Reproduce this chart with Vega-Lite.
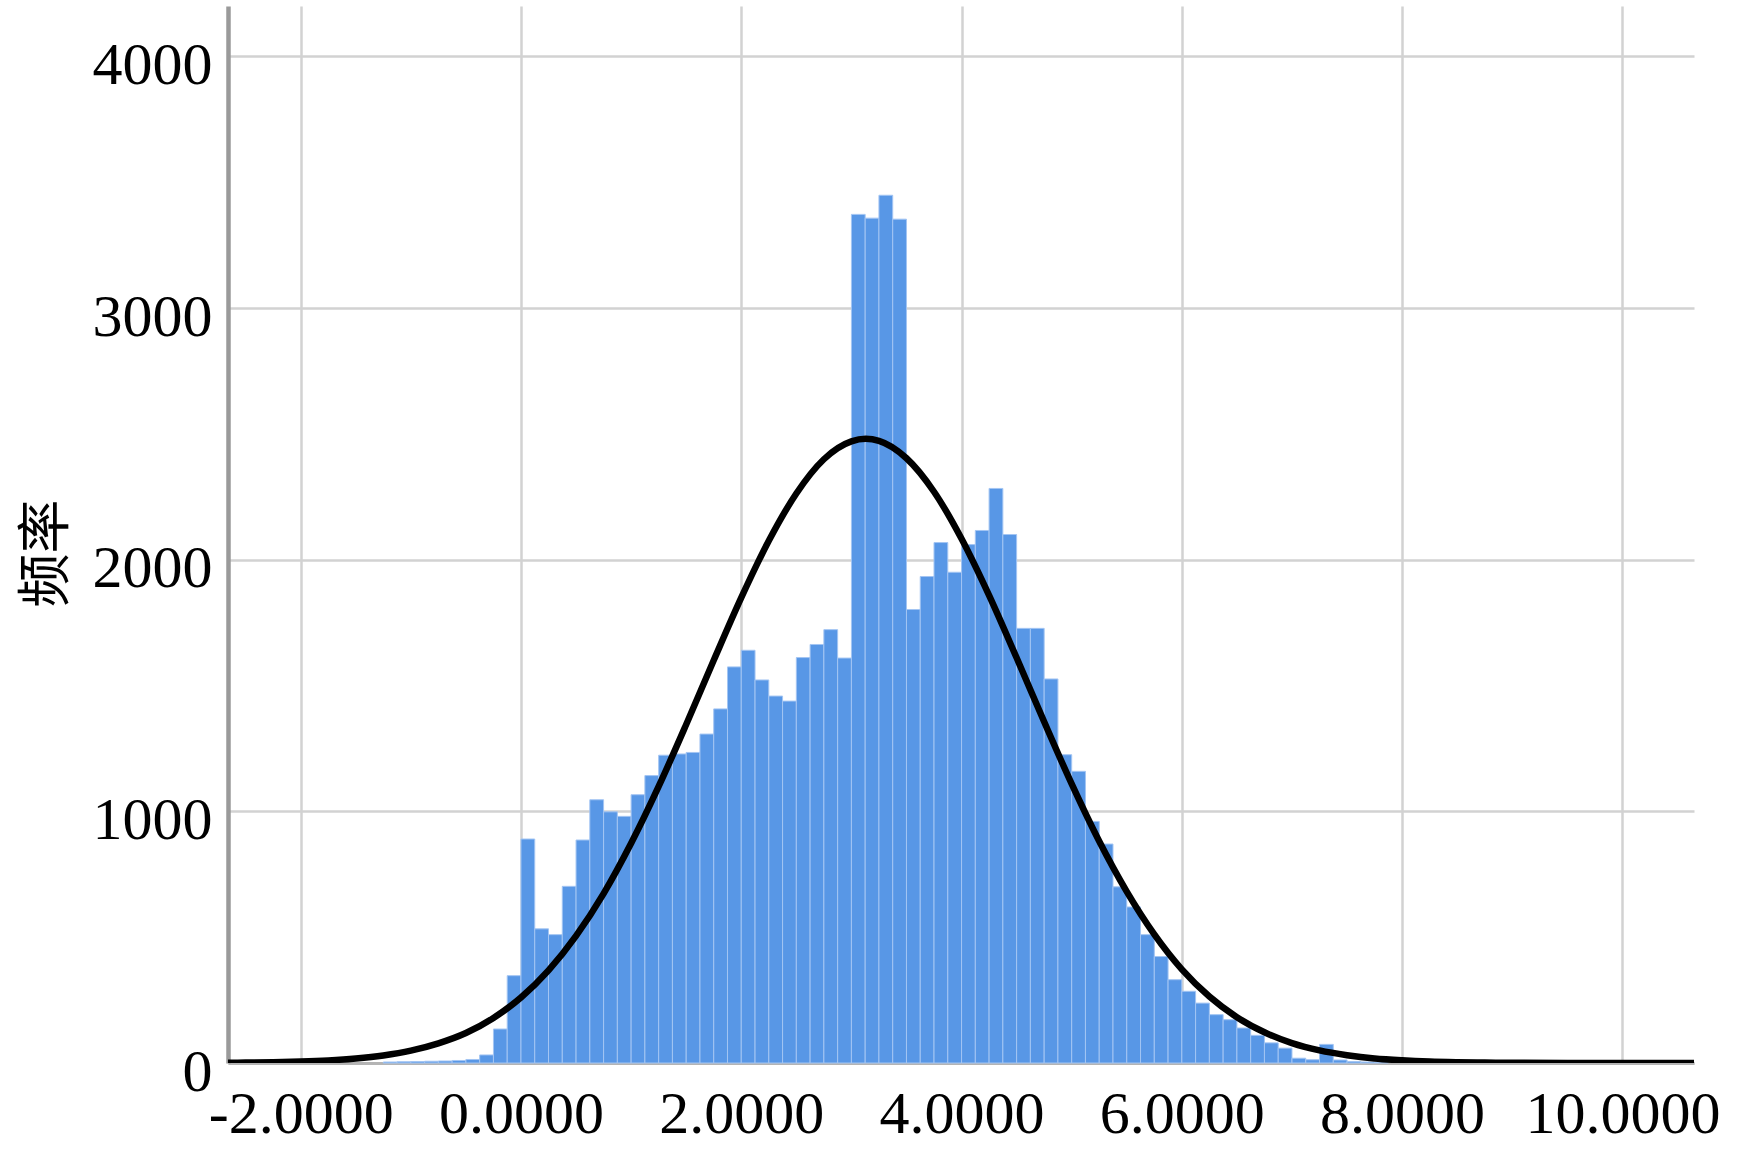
{
  "$schema": "https://vega.github.io/schema/vega-lite/v6.json",
  "width": 1466,
  "height": 1057,
  "autosize": "none",
  "padding": {"left": 228, "top": 6, "right": 58, "bottom": 92},
  "background": "white",
  "config": {
    "view": {"stroke": null},
    "axis": {
      "labelFont": "Liberation Serif",
      "labelFontSize": 60,
      "labelColor": "#000000",
      "labelLimit": 0,
      "ticks": false,
      "gridColor": "#d2d2d2",
      "gridWidth": 2.5,
      "gridOpacity": 1
    }
  },
  "datasets": {
    "bins": [
      {"start": -1.25, "end": -1.125, "count": 4},
      {"start": -1.125, "end": -1.0, "count": 5},
      {"start": -1.0, "end": -0.875, "count": 6},
      {"start": -0.875, "end": -0.75, "count": 7},
      {"start": -0.75, "end": -0.625, "count": 8},
      {"start": -0.625, "end": -0.5, "count": 10},
      {"start": -0.5, "end": -0.375, "count": 14},
      {"start": -0.375, "end": -0.25, "count": 32},
      {"start": -0.25, "end": -0.125, "count": 135},
      {"start": -0.125, "end": 0.0, "count": 347},
      {"start": 0.0, "end": 0.125, "count": 890},
      {"start": 0.125, "end": 0.25, "count": 533},
      {"start": 0.25, "end": 0.375, "count": 510},
      {"start": 0.375, "end": 0.5, "count": 702},
      {"start": 0.5, "end": 0.625, "count": 886},
      {"start": 0.625, "end": 0.75, "count": 1046},
      {"start": 0.75, "end": 0.875, "count": 998},
      {"start": 0.875, "end": 1.0, "count": 980},
      {"start": 1.0, "end": 1.125, "count": 1066},
      {"start": 1.125, "end": 1.25, "count": 1142},
      {"start": 1.25, "end": 1.375, "count": 1223},
      {"start": 1.375, "end": 1.5, "count": 1228},
      {"start": 1.5, "end": 1.625, "count": 1234},
      {"start": 1.625, "end": 1.75, "count": 1307},
      {"start": 1.75, "end": 1.875, "count": 1407},
      {"start": 1.875, "end": 2.0, "count": 1574},
      {"start": 2.0, "end": 2.125, "count": 1640},
      {"start": 2.125, "end": 2.25, "count": 1522},
      {"start": 2.25, "end": 2.375, "count": 1458},
      {"start": 2.375, "end": 2.5, "count": 1438},
      {"start": 2.5, "end": 2.625, "count": 1611},
      {"start": 2.625, "end": 2.75, "count": 1663},
      {"start": 2.75, "end": 2.875, "count": 1722},
      {"start": 2.875, "end": 3.0, "count": 1609},
      {"start": 3.0, "end": 3.125, "count": 3372},
      {"start": 3.125, "end": 3.25, "count": 3357},
      {"start": 3.25, "end": 3.375, "count": 3448},
      {"start": 3.375, "end": 3.5, "count": 3353},
      {"start": 3.5, "end": 3.625, "count": 1802},
      {"start": 3.625, "end": 3.75, "count": 1933},
      {"start": 3.75, "end": 3.875, "count": 2068},
      {"start": 3.875, "end": 4.0, "count": 1950},
      {"start": 4.0, "end": 4.125, "count": 2060},
      {"start": 4.125, "end": 4.25, "count": 2116},
      {"start": 4.25, "end": 4.375, "count": 2283},
      {"start": 4.375, "end": 4.5, "count": 2100},
      {"start": 4.5, "end": 4.625, "count": 1727},
      {"start": 4.625, "end": 4.75, "count": 1727},
      {"start": 4.75, "end": 4.875, "count": 1526},
      {"start": 4.875, "end": 5.0, "count": 1225},
      {"start": 5.0, "end": 5.125, "count": 1159},
      {"start": 5.125, "end": 5.25, "count": 960},
      {"start": 5.25, "end": 5.375, "count": 870},
      {"start": 5.375, "end": 5.5, "count": 700},
      {"start": 5.5, "end": 5.625, "count": 620},
      {"start": 5.625, "end": 5.75, "count": 510},
      {"start": 5.75, "end": 5.875, "count": 423},
      {"start": 5.875, "end": 6.0, "count": 331},
      {"start": 6.0, "end": 6.125, "count": 285},
      {"start": 6.125, "end": 6.25, "count": 238},
      {"start": 6.25, "end": 6.375, "count": 192},
      {"start": 6.375, "end": 6.5, "count": 172},
      {"start": 6.5, "end": 6.625, "count": 139},
      {"start": 6.625, "end": 6.75, "count": 110},
      {"start": 6.75, "end": 6.875, "count": 80},
      {"start": 6.875, "end": 7.0, "count": 59},
      {"start": 7.0, "end": 7.125, "count": 19},
      {"start": 7.125, "end": 7.25, "count": 13},
      {"start": 7.25, "end": 7.375, "count": 74},
      {"start": 7.375, "end": 7.5, "count": 12},
      {"start": 7.5, "end": 7.625, "count": 6},
      {"start": 7.625, "end": 7.75, "count": 4},
      {"start": 7.75, "end": 7.875, "count": 3}
    ],
    "curve": [
      {"x": -2.66, "y": 1.1},
      {"x": -2.5, "y": 1.7},
      {"x": -2.25, "y": 3.2},
      {"x": -2.0, "y": 5.8},
      {"x": -1.75, "y": 10.3},
      {"x": -1.5, "y": 17.9},
      {"x": -1.25, "y": 30},
      {"x": -1.0, "y": 49},
      {"x": -0.75, "y": 78},
      {"x": -0.5, "y": 119},
      {"x": -0.25, "y": 179},
      {"x": 0.0, "y": 260},
      {"x": 0.25, "y": 368},
      {"x": 0.5, "y": 505},
      {"x": 0.75, "y": 673},
      {"x": 1.0, "y": 873},
      {"x": 1.25, "y": 1099},
      {"x": 1.5, "y": 1345},
      {"x": 1.75, "y": 1600},
      {"x": 2.0, "y": 1849},
      {"x": 2.25, "y": 2075},
      {"x": 2.5, "y": 2263},
      {"x": 2.75, "y": 2399},
      {"x": 3.0, "y": 2470},
      {"x": 3.13, "y": 2480},
      {"x": 3.25, "y": 2472},
      {"x": 3.5, "y": 2403},
      {"x": 3.75, "y": 2270},
      {"x": 4.0, "y": 2083},
      {"x": 4.25, "y": 1858},
      {"x": 4.5, "y": 1610},
      {"x": 4.75, "y": 1356},
      {"x": 5.0, "y": 1109},
      {"x": 5.25, "y": 881},
      {"x": 5.5, "y": 681},
      {"x": 5.75, "y": 511},
      {"x": 6.0, "y": 372},
      {"x": 6.25, "y": 264},
      {"x": 6.5, "y": 182},
      {"x": 6.75, "y": 122},
      {"x": 7.0, "y": 79},
      {"x": 7.25, "y": 50},
      {"x": 7.5, "y": 31},
      {"x": 7.75, "y": 18},
      {"x": 8.0, "y": 10.6},
      {"x": 8.25, "y": 5.9},
      {"x": 8.5, "y": 3.3},
      {"x": 8.75, "y": 1.7},
      {"x": 9.0, "y": 0.9},
      {"x": 9.5, "y": 0.2},
      {"x": 10.0, "y": 0.04},
      {"x": 10.65, "y": 0.0}
    ]
  },
  "layer": [
    {
      "data": {"name": "bins"},
      "mark": {"type": "rect", "color": "#5897e6", "stroke": "#a3c5f3", "strokeWidth": 1},
      "encoding": {
        "x": {
          "field": "start",
          "type": "quantitative",
          "scale": {"domain": [-2.66, 10.65], "nice": false, "zero": false},
          "axis": {
            "values": [-2, 0, 2, 4, 6, 8, 10],
            "labelExpr": "replace(format(datum.value, '.4f'), '\u2212', '-')",
            "labelPadding": 22,
            "labelFlush": false,
            "labelOverlap": false,
            "labelLimit": 0,
            "domainColor": "#b4b4b4",
            "domainWidth": 3,
            "title": null
          }
        },
        "x2": {"field": "end"},
        "y": {
          "field": "count",
          "type": "quantitative",
          "scale": {"domain": [0, 4200], "nice": false},
          "axis": {
            "values": [0, 1000, 2000, 3000, 4000],
            "format": "d",
            "labelPadding": 16,
            "labelOffset": 9,
            "domainColor": "#9a9a9a",
            "domainWidth": 4.5,
            "title": "频率",
            "titleFont": "Noto Sans CJK SC",
            "titleFontSize": 54,
            "titleFontWeight": "normal",
            "titleColor": "#000000",
            "titleAngle": -90,
            "titleX": -181,
            "titleY": 547,
            "titleAlign": "center",
            "titleBaseline": "middle"
          }
        },
        "y2": {"datum": 0}
      }
    },
    {
      "data": {"name": "curve"},
      "mark": {"type": "line", "color": "#000000", "strokeWidth": 6.5, "interpolate": "monotone", "clip": true},
      "encoding": {
        "x": {"field": "x", "type": "quantitative"},
        "y": {"field": "y", "type": "quantitative"}
      }
    }
  ]
}
